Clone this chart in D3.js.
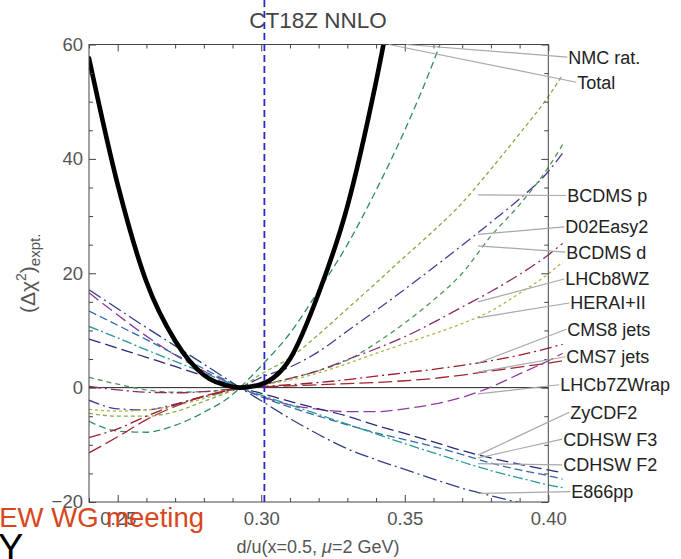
<!DOCTYPE html>
<html>
<head>
<meta charset="utf-8">
<script src="https://cdn.jsdelivr.net/npm/d3@7"></script>
<style>
  html, body { margin: 0; padding: 0; background: #fff; }
  svg { display: block; font-family: "Liberation Sans", Arial, sans-serif; }
</style>
</head>
<body>
<svg id="chart" width="681" height="559"></svg>
<script>
// d/u(x=0.5, mu=2 GeV) sample points shared by every scan curve
const duGrid = [0.24, 0.25, 0.26, 0.27, 0.28, 0.29, 0.2926, 0.30, 0.31, 0.32, 0.33, 0.34, 0.35, 0.36, 0.37, 0.38, 0.39, 0.40, 0.405];

// (Delta chi^2)_expt. for each experiment along the scan
const total      = [57.6, 35.5, 18.5, 8.2, 2.2, 0.15, 0, 0.6, 5.0, 16.5, 31.7, 53.5, 80, null, null, null, null, null, null];
const nmcRat     = [-5.9, -7.6, -7.8, -6.6, -4.3, -1.2, 0, 3.8, 9.5, 17.0, 25.0, 34.5, 45.0, 57.0, 71, null, null, null, null];
const bcdmsP     = [-4.5, -5.0, -5.0, -4.2, -2.4, -0.5, 0, 2.4, 5.2, 9.3, 13.8, 18.3, 22.9, 27.4, 32.3, 38.2, 44.4, 50.9, 54.7];
const d02Easy2   = [-2.2, -3.7, -3.9, -2.9, -1.6, -0.4, 0, 1.8, 3.6, 6.3, 9.9, 13.5, 17.2, 21.0, 24.9, 28.9, 33.0, 37.8, 41.0];
const bcdmsD     = [1.8, 0.6, -0.4, -0.8, -0.7, -0.2, 0, 0.6, 1.6, 3.0, 4.8, 7.8, 11.3, 15.3, 20.0, 26.5, 32.0, 38.5, 42.5];
const lhcb8WZ    = [0.2, -0.4, -0.8, -0.9, -0.7, -0.2, 0, 0.5, 1.6, 3.0, 4.9, 6.8, 8.9, 11.4, 14.1, 16.8, 19.8, 23.2, 25.2];
const heraI2     = [-3.8, -4.1, -3.9, -3.1, -1.9, -0.4, 0, 0.5, 1.3, 2.6, 4.2, 6.0, 7.7, 9.4, 11.2, 13.4, 16.5, 19.9, 22.0];
const cms8Jets   = [-8.7, -7.2, -5.0, -3.0, -1.5, -0.3, 0, 0.2, 0.5, 0.9, 1.4, 2.0, 2.6, 3.2, 3.9, 4.7, 5.7, 6.9, 7.6];
const cms7Jets   = [-11.4, -8.6, -5.6, -3.3, -1.5, -0.3, 0, 0.15, 0.3, 0.5, 0.7, 0.9, 1.2, 1.6, 2.2, 2.9, 3.6, 4.3, 4.7];
const lhcb7ZWrap = [16.6, 12.7, 9.0, 5.7, 2.9, 0.6, 0, -1.5, -3.0, -3.8, -4.2, -4.2, -3.7, -2.9, -1.7, 0.1, 2.4, 4.7, 6.0];
const zyCDF2     = [8.5, 6.9, 5.3, 3.7, 2.05, 0.42, 0, -1.0, -2.4, -3.7, -5.0, -6.6, -8.0, -9.5, -11.0, -12.3, -13.4, -14.4, -14.9];
const cdhswF3    = [13.4, 10.9, 8.4, 5.8, 3.3, 0.67, 0, -1.6, -3.4, -5.0, -6.5, -7.9, -9.1, -10.3, -11.7, -13.2, -14.4, -15.4, -16.0];
const cdhswF2    = [10.7, 8.7, 6.6, 4.6, 2.6, 0.53, 0, -1.3, -3.0, -4.7, -6.4, -8.1, -9.8, -11.4, -13.0, -14.5, -15.8, -17.0, -17.5];
const e866pp     = [17.1, 13.8, 10.5, 7.3, 4.1, 0.85, 0, -2.3, -5.4, -8.2, -10.7, -12.6, -14.3, -16.0, -17.6, -18.9, -20.1, -21.0, -21.3];

const seriesNames = ["NMC rat.", "Total", "BCDMS p", "D02Easy2", "BCDMS d", "LHCb8WZ", "HERAI+II",
                     "CMS8 jets", "CMS7 jets", "LHCb7ZWrap", "ZyCDF2", "CDHSW F3", "CDHSW F2", "E866pp"];
const seriesValues = [nmcRat, total, bcdmsP, d02Easy2, bcdmsD, lhcb8WZ, heraI2,
                      cms8Jets, cms7Jets, lhcb7ZWrap, zyCDF2, cdhswF3, cdhswF2, e866pp];

// where each callout leader starts (d/u, Delta chi^2) and the level of its label
const calloutAnchorX = [0.3505, 0.3445, 0.3755, 0.3755, 0.3755, 0.3755, 0.3755, 0.3755, 0.3755, 0.3755, 0.3755, 0.3755, 0.3755, 0.3755];
const calloutAnchorY = [60, 60, 33.7, 26.8, 24.8, 15.0, 12.2, 4.3, 2.7, -1.1, -11.8, -12.3, -13.3, -18.5];
const calloutLabelY  = [57.8, 53.4, 33.6, 28.1, 23.7, 19.0, 14.8, 10.2, 5.4, 0.5, -4.3, -9.0, -13.5, -18.2];

const centralDU = 0.3011;
const xTickLabels = [0.25, 0.30, 0.35, 0.40];
const yTickLabels = [-20, 0, 20, 40, 60];

// ---- drawing styles ----
const styles = {
  "Total":      { color: "#000000", dash: null,           width: 4.6 },
  "NMC rat.":   { color: "#2f8d6a", dash: "7,4",          width: 1.3 },
  "BCDMS p":    { color: "#86ac48", dash: "4,3",          width: 1.3 },
  "D02Easy2":   { color: "#463c94", dash: "11,4,2,4",     width: 1.3 },
  "BCDMS d":    { color: "#4e9455", dash: "5,4",          width: 1.3 },
  "LHCb8WZ":    { color: "#8a2c68", dash: "12,4,2,4",     width: 1.3 },
  "HERAI+II":   { color: "#b3b547", dash: "3,3",          width: 1.3 },
  "CMS8 jets":  { color: "#9a1d2c", dash: "12,4,2,4",     width: 1.3 },
  "CMS7 jets":  { color: "#a3252e", dash: "14,5",         width: 1.3 },
  "LHCb7ZWrap": { color: "#8b3c9e", dash: "12,5",         width: 1.3 },
  "ZyCDF2":     { color: "#29287c", dash: "12,5",         width: 1.3 },
  "CDHSW F3":   { color: "#2f6aa6", dash: "8,4",          width: 1.3 },
  "CDHSW F2":   { color: "#2a9a98", dash: "10,3,2,3",     width: 1.3 },
  "E866pp":     { color: "#2f3f82", dash: "14,4,2,4",     width: 1.3 }
};
const labelDx = { "NMC rat.": 20, "Total": 29, "BCDMS p": 19, "D02Easy2": 17, "BCDMS d": 18, "LHCb8WZ": 17,
                  "HERAI+II": 22, "CMS8 jets": 19, "CMS7 jets": 18, "LHCb7ZWrap": 12, "ZyCDF2": 22,
                  "CDHSW F3": 15, "CDHSW F2": 15, "E866pp": 23 };

const svg = d3.select("#chart");
const plotL = 89, plotR = 548.3, plotT = 44.5, plotB = 502;

const x = d3.scaleLinear().domain([0.24, 0.40]).range([plotL, plotR]);
const y = d3.scaleLinear().domain([-20, 60]).range([plotB, plotT]);

const frameColor = "#444";
const tickColor = "#555";

// clip: curves are cut at the vertical plot range but run a little past the right frame
svg.append("defs").append("clipPath").attr("id", "plotClip")
  .append("rect").attr("x", plotL).attr("y", plotT).attr("width", 600 - plotL).attr("height", plotB - plotT);

// zero axis
svg.append("line")
  .attr("x1", plotL).attr("x2", plotR).attr("y1", y(0)).attr("y2", y(0))
  .attr("stroke", "#222").attr("stroke-width", 1);

// scan curves
const line = d3.line()
  .defined(d => d[1] !== null)
  .x(d => x(d[0])).y(d => y(d[1]))
  .curve(d3.curveMonotoneX);

const curves = svg.append("g").attr("clip-path", "url(#plotClip)");
const drawOrder = seriesNames.map((n, i) => i).filter(i => seriesNames[i] !== "Total");
drawOrder.push(seriesNames.indexOf("Total"));
drawOrder.forEach(i => {
  const name = seriesNames[i];
  const st = styles[name];
  const pts = duGrid.map((u, k) => [u, seriesValues[i][k]]);
  curves.append("path")
    .datum(pts)
    .attr("d", line)
    .attr("fill", "none")
    .attr("stroke", st.color)
    .attr("stroke-width", st.width)
    .attr("stroke-dasharray", st.dash)
    .attr("stroke-linejoin", "round")
    .attr("stroke-linecap", st.dash ? "butt" : "round");
});

// frame with inward ticks on all four sides
const majorLen = 7, minorLen = 4;
const xMinor = d3.range(0.24, 0.4001, 0.01).filter(v => !xTickLabels.some(t => Math.abs(t - v) < 1e-6));
const yMinor = d3.range(-20, 60.01, 5).filter(v => v % 20 !== 0);

function styleAxis(g) {
  g.select(".domain").remove();
  g.selectAll(".tick line").attr("stroke", frameColor).attr("stroke-width", 1);
}

const tickFont = 18.5;
svg.append("g").attr("transform", `translate(0,${plotB})`)
  .call(d3.axisBottom(x).tickValues(xTickLabels).tickSize(-majorLen).tickPadding(10).tickFormat(d3.format(".2f")))
  .call(styleAxis)
  .call(g => g.selectAll("text").attr("font-size", tickFont).attr("fill", tickColor).attr("font-family", "Liberation Sans, Arial, sans-serif"));
svg.append("g").attr("transform", `translate(0,${plotB})`)
  .call(d3.axisBottom(x).tickValues(xMinor).tickSize(-minorLen).tickFormat(""))
  .call(styleAxis);
svg.append("g").attr("transform", `translate(0,${plotT})`)
  .call(d3.axisTop(x).tickValues(xTickLabels).tickSize(-majorLen).tickFormat(""))
  .call(styleAxis);
svg.append("g").attr("transform", `translate(0,${plotT})`)
  .call(d3.axisTop(x).tickValues(xMinor).tickSize(-minorLen).tickFormat(""))
  .call(styleAxis);

svg.append("g").attr("transform", `translate(${plotL},0)`)
  .call(d3.axisLeft(y).tickValues(yTickLabels).tickSize(-majorLen).tickPadding(6))
  .call(styleAxis)
  .call(g => g.selectAll("text").attr("font-size", tickFont).attr("fill", tickColor).attr("font-family", "Liberation Sans, Arial, sans-serif"));
svg.append("g").attr("transform", `translate(${plotL},0)`)
  .call(d3.axisLeft(y).tickValues(yMinor).tickSize(-minorLen).tickFormat(""))
  .call(styleAxis);
svg.append("g").attr("transform", `translate(${plotR},0)`)
  .call(d3.axisRight(y).tickValues(yTickLabels).tickSize(-majorLen).tickFormat(""))
  .call(styleAxis);
svg.append("g").attr("transform", `translate(${plotR},0)`)
  .call(d3.axisRight(y).tickValues(yMinor).tickSize(-minorLen).tickFormat(""))
  .call(styleAxis);

svg.append("rect")
  .attr("x", plotL).attr("y", plotT).attr("width", plotR - plotL).attr("height", plotB - plotT)
  .attr("fill", "none").attr("stroke", frameColor).attr("stroke-width", 1);

// central value of d/u
svg.append("line")
  .attr("x1", x(centralDU)).attr("x2", x(centralDU))
  .attr("y1", 0).attr("y2", plotB)
  .attr("stroke", "#2b2bc4").attr("stroke-width", 1.8).attr("stroke-dasharray", "7,4");

// callouts
const callouts = svg.append("g");
seriesNames.forEach((name, i) => {
  const tx = plotR + labelDx[name];
  const ty = y(calloutLabelY[i]);
  callouts.append("line")
    .attr("x1", x(calloutAnchorX[i])).attr("y1", y(calloutAnchorY[i]))
    .attr("x2", tx - 1).attr("y2", ty)
    .attr("stroke", "#a8a8a8").attr("stroke-width", 1.2);
  callouts.append("text")
    .attr("x", tx).attr("y", ty).attr("dy", "0.36em")
    .attr("font-size", 18).attr("fill", "#222")
    .text(name);
});

// title
svg.append("text")
  .attr("x", 318).attr("y", 28)
  .attr("text-anchor", "middle").attr("font-size", 22.5).attr("fill", "#444")
  .text("CT18Z NNLO");

// axis titles
const xt = svg.append("text")
  .attr("x", 318).attr("y", 553)
  .attr("text-anchor", "middle").attr("font-size", 18).attr("fill", "#555");
xt.append("tspan").text("d/u(x=0.5, ");
xt.append("tspan").attr("font-style", "italic").text("\u03bc");
xt.append("tspan").text("=2 GeV)");

const yt = svg.append("text")
  .attr("transform", "translate(35,313) rotate(-90)")
  .attr("font-size", 21).attr("fill", "#555");
yt.append("tspan").text("(\u0394\u03c7");
yt.append("tspan").attr("font-size", 14).attr("dy", -9).text("2");
yt.append("tspan").attr("dy", 9).text(")");
yt.append("tspan").attr("font-size", 15).attr("dy", 5).text("expt.");

// slide footer fragments
svg.append("text")
  .attr("x", 204).attr("y", 527)
  .attr("text-anchor", "end").attr("font-size", 27.5).attr("fill", "#d8461c")
  .text("EW WG meeting");
svg.append("text")
  .attr("x", -2).attr("y", 561)
  .attr("font-size", 38).attr("fill", "#000")
  .text("Y");
</script>
</body>
</html>
